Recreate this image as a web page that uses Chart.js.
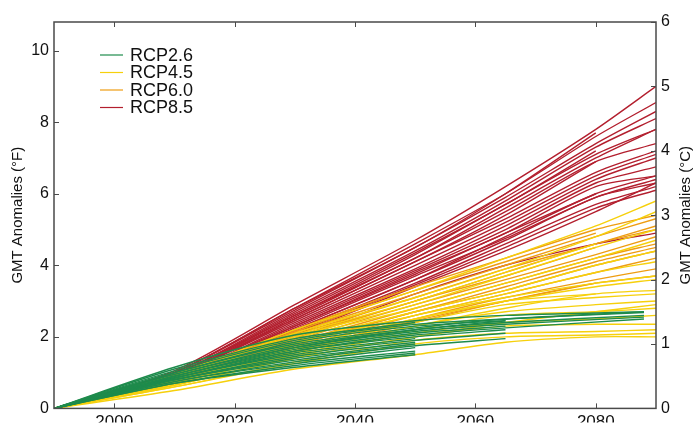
<!DOCTYPE html>
<html>
<head>
<meta charset="utf-8">
<script src="https://cdn.jsdelivr.net/npm/chart.js@4.4.1/dist/chart.umd.min.js"></script>
<style>
  html, body { margin: 0; padding: 0; background: #fff; }
</style>
</head>
<body>
<canvas id="mycanvas" width="694" height="423"></canvas>
<script>
// years where each model run is sampled
var years = [1990, 2010, 2030, 2050, 2065, 2080, 2090];
var yearsRcp26 = [1990, 2010, 2030, 2050, 2065, 2088];

// tick labels
var yearTicks = [2000, 2020, 2040, 2060, 2080];
var fTicks = [0, 2, 4, 6, 8, 10];
var cTicks = [0, 1, 2, 3, 4, 5, 6];

var scenarioNames = ['RCP2.6', 'RCP4.5', 'RCP6.0', 'RCP8.5'];

// GMT anomalies in degF, one row per model run (null = run ended)
var rcp26Runs = [
  [0, 1.15, 2.05, 2.45, 2.6, 2.7],
  [0, 1.05, 1.9, 2.35, 2.5, 2.68],
  [0, 1.0, 1.85, 2.3, 2.45, null],
  [0, 0.95, 1.75, 2.2, 2.4, 2.6],
  [0, 0.9, 1.65, 2.1, 2.3, null],
  [0, 0.9, 1.6, 2.05, 2.25, 2.5],
  [0, 0.85, 1.55, 1.95, null, null],
  [0, 0.85, 1.5, 1.9, 2.1, null],
  [0, 0.8, 1.4, 1.8, null, null],
  [0, 0.8, 1.35, 1.75, 1.95, null],
  [0, 0.75, 1.3, 1.7, null, null],
  [0, 0.75, 1.25, 1.6, null, null],
  [0, 0.7, 1.2, 1.55, null, null],
  [0, 0.7, 1.15, 1.5, null, null],
  [0, 1.0, 1.8, 2.25, 2.5, 2.7],
  [0, 0.95, 1.7, 2.15, 2.35, 2.55],
  [0, 0.9, 1.7, 2.2, 2.45, null],
  [0, 0.85, 1.6, 2.0, 2.2, null],
  [0, 0.8, 1.45, 1.85, null, null],
  [0, 1.1, 1.95, 2.4, null, null]
];

var rcp45Runs = [
  [0, 0.95, 2.2, 3.3, 4.2, 5.1, 5.8],
  [0, 0.9, 2.1, 3.1, 3.9, 4.8, 5.5],
  [0, 0.85, 2.0, 2.9, 3.7, 4.5, 5.0],
  [0, 0.85, 1.95, 2.8, 3.5, 4.2, 4.7],
  [0, 0.8, 1.85, 2.7, 3.3, 4.0, 4.4],
  [0, 0.8, 1.8, 2.6, 3.2, 3.8, 4.1],
  [0, 0.75, 1.7, 2.5, 3.0, 3.4, 3.6],
  [0, 0.75, 1.65, 2.4, 2.9, 3.1, 3.2],
  [0, 0.7, 1.6, 2.3, 2.7, 2.9, 3.0],
  [0, 0.7, 1.5, 2.2, 2.6, 2.7, 2.8],
  [0, 0.65, 1.45, 2.1, 2.4, 2.5, 2.6],
  [0, 0.65, 1.4, 2.0, 2.3, 2.35, 2.35],
  [0, 0.6, 1.3, 1.9, 2.1, 2.15, 2.2],
  [0, 0.6, 1.25, 1.8, 2.0, 2.05, 2.1],
  [0, 0.5, 1.1, 1.5, 1.85, 2.0, 2.0],
  [0, 0.9, 2.05, 3.0, 3.8, 4.6, null],
  [0, 0.8, 1.8, 2.6, 3.1, 3.5, 3.7],
  [0, 0.75, 1.7, 2.5, 3.0, 3.2, null],
  [0, 0.7, 1.55, 2.3, 2.8, 3.2, 3.3],
  [0, 0.65, 1.4, 2.0, 2.4, 2.7, 2.9]
];

var rcp60Runs = [
  [0, 0.9, 2.2, 3.4, 4.2, 5.0, 5.4],
  [0, 0.85, 2.1, 3.2, 4.0, 4.8, 5.3],
  [0, 0.85, 2.0, 3.0, 3.8, 4.6, 5.0],
  [0, 0.8, 1.9, 2.9, 3.6, 4.3, 4.8],
  [0, 0.8, 1.85, 2.8, 3.5, 4.2, 4.6],
  [0, 0.75, 1.75, 2.7, 3.3, 4.0, 4.4],
  [0, 0.75, 1.7, 2.6, 3.2, 3.8, 4.2],
  [0, 0.7, 1.6, 2.5, 3.1, 3.6, 3.9],
  [0, 0.7, 1.55, 2.4, 3.0, 3.5, 3.7],
  [0, 0.9, 2.15, 3.3, 4.1, 4.9, null],
  [0, 0.8, 1.95, 3.0, 3.7, 4.5, null],
  [0, 0.7, 1.6, 2.45, 3.0, 3.5, null],
  [0, 0.85, 2.05, 3.1, 3.9, 4.6, 5.1],
  [0, 0.75, 1.8, 2.7, 3.4, 4.1, 4.5]
];

var rcp85Runs = [
  [0, 1.05, 2.9, 4.7, 6.2, 7.8, 9.0],
  [0, 1.0, 2.8, 4.6, 6.0, 7.6, 8.55],
  [0, 1.0, 2.75, 4.5, 5.9, 7.4, 8.3],
  [0, 0.95, 2.7, 4.4, 5.8, 7.3, 8.1],
  [0, 1.0, 2.8, 4.5, 6.0, 7.7, null],
  [0, 0.95, 2.6, 4.3, 5.7, 7.1, 7.8],
  [0, 0.9, 2.55, 4.2, 5.5, 6.9, 7.4],
  [0, 0.9, 2.5, 4.1, 5.3, 6.6, 7.2],
  [0, 0.9, 2.45, 4.0, 5.2, 6.5, 7.1],
  [0, 0.85, 2.4, 3.9, 5.1, 6.4, 7.0],
  [0, 0.85, 2.35, 3.85, 5.0, 6.3, 6.75],
  [0, 0.9, 2.5, 4.1, 5.4, 6.9, null],
  [0, 0.85, 2.3, 3.8, 4.9, 6.2, 6.5],
  [0, 0.8, 2.2, 3.6, 4.7, 5.9, 6.3],
  [0, 0.8, 2.15, 3.5, 4.6, 5.7, 6.2],
  [0, 0.8, 2.1, 3.45, 4.5, 5.6, 6.1],
  [0, 0.8, 2.2, 3.6, 4.8, 6.0, 6.5],
  [0, 0.75, 2.05, 3.4, 4.4, 5.5, 6.3],
  [0, 0.85, 2.3, 3.75, 4.9, 6.0, null],
  [0, 0.8, 2.25, 3.7, 4.75, 5.9, 6.4],
  [0, 0.9, 2.6, 4.2, 5.6, 7.0, 7.8],
  [0, 0.95, 2.65, 4.35, 5.7, 7.2, null],
  [0, 0.75, 1.95, 3.2, 4.0, 4.6, 4.9]
];

var colors = {
  'RCP2.6': '#1e8b4c',
  'RCP4.5': '#f6d00c',
  'RCP6.0': '#ee9d12',
  'RCP8.5': '#b31f2e'
};

var fontName = '"Liberation Sans", Arial, sans-serif';

function makeSets(name, runs, xs) {
  return runs.map(function(run) {
    var pts = [];
    for (var i = 0; i < run.length; i++) {
      pts.push({ x: xs[i], y: run[i] });
    }
    return {
      label: name,
      data: pts,
      borderColor: colors[name],
      borderWidth: 1.4,
      pointRadius: 0,
      tension: 0.25,
      fill: false,
      yAxisID: 'y'
    };
  });
}

// first dataset is drawn on top, so green goes first
var datasets = []
  .concat(makeSets('RCP2.6', rcp26Runs, yearsRcp26))
  .concat(makeSets('RCP4.5', rcp45Runs, years))
  .concat(makeSets('RCP6.0', rcp60Runs, years))
  .concat(makeSets('RCP8.5', rcp85Runs, years));

// frame, inward ticks, axis titles and legend
var framePlugin = {
  id: 'frame',
  afterDraw: function(chart) {
    var ctx = chart.ctx;
    var a = chart.chartArea;
    var sx = chart.scales.x, sy = chart.scales.y, sy2 = chart.scales.y2;
    ctx.save();

    ctx.strokeStyle = '#4a4a4a';
    ctx.lineWidth = 1.5;
    ctx.strokeRect(a.left, a.top, a.right - a.left, a.bottom - a.top);

    ctx.lineWidth = 1;
    ctx.beginPath();
    yearTicks.forEach(function(v) {
      var px = Math.round(sx.getPixelForValue(v)) + 0.5;
      ctx.moveTo(px, a.bottom); ctx.lineTo(px, a.bottom - 5);
      ctx.moveTo(px, a.top); ctx.lineTo(px, a.top + 5);
    });
    fTicks.forEach(function(v) {
      var py = Math.round(sy.getPixelForValue(v)) + 0.5;
      ctx.moveTo(a.left, py); ctx.lineTo(a.left + 5, py);
    });
    cTicks.forEach(function(v) {
      var py = Math.round(sy2.getPixelForValue(v)) + 0.5;
      ctx.moveTo(a.right, py); ctx.lineTo(a.right - 5, py);
    });
    ctx.stroke();

    // axis titles, both read bottom to top
    var midY = (a.top + a.bottom) / 2;
    ctx.fillStyle = '#111';
    ctx.font = '15px ' + fontName;
    ctx.textAlign = 'center';
    ctx.textBaseline = 'middle';
    ctx.save();
    ctx.translate(18, midY);
    ctx.rotate(-Math.PI / 2);
    ctx.fillText('GMT Anomalies (°F)', 0, 0);
    ctx.restore();
    ctx.save();
    ctx.translate(686, midY);
    ctx.rotate(-Math.PI / 2);
    ctx.fillText('GMT Anomalies (°C)', 0, 0);
    ctx.restore();

    // legend
    ctx.font = '18px ' + fontName;
    ctx.textAlign = 'left';
    for (var i = 0; i < scenarioNames.length; i++) {
      var ly = 55 + i * 17.5;
      ctx.strokeStyle = colors[scenarioNames[i]];
      ctx.lineWidth = 1.2;
      ctx.beginPath();
      ctx.moveTo(100, ly);
      ctx.lineTo(123, ly);
      ctx.stroke();
      ctx.fillStyle = '#111';
      ctx.fillText(scenarioNames[i], 130, ly + 1);
    }
    ctx.restore();
  }
};

var ctx = document.getElementById('mycanvas');

var chart = new Chart(ctx, {
  type: 'line',
  data: { datasets: datasets },
  options: {
    responsive: false,
    animation: false,
    events: [],
    layout: { padding: { top: 22, left: 0, right: 0, bottom: 0 } },
    plugins: {
      legend: { display: false },
      tooltip: { enabled: false }
    },
    scales: {
      x: {
        type: 'linear',
        min: 1990,
        max: 2090,
        afterFit: function(scale) { scale.height = 14; },
        afterBuildTicks: function(scale) {
          scale.ticks = yearTicks.map(function(v) { return { value: v }; });
        },
        grid: { display: false, drawTicks: false },
        border: { display: false },
        ticks: {
          padding: 4,
          color: '#111',
          font: { family: fontName, size: 17 },
          maxRotation: 0,
          callback: function(v) { return String(v); }
        }
      },
      y: {
        position: 'left',
        min: 0,
        max: 10.8,
        afterFit: function(scale) { scale.width = 54; },
        afterBuildTicks: function(scale) {
          scale.ticks = fTicks.map(function(v) { return { value: v }; });
        },
        grid: { display: false, drawTicks: false },
        border: { display: false },
        ticks: {
          padding: 5,
          color: '#111',
          font: { family: fontName, size: 16 },
          callback: function(v) { return String(v); }
        }
      },
      y2: {
        position: 'right',
        min: 0,
        max: 6,
        afterFit: function(scale) { scale.width = 38; },
        afterBuildTicks: function(scale) {
          scale.ticks = cTicks.map(function(v) { return { value: v }; });
        },
        grid: { display: false, drawTicks: false },
        border: { display: false },
        ticks: {
          padding: 5,
          color: '#111',
          font: { family: fontName, size: 16 },
          callback: function(v) { return String(v); }
        }
      }
    }
  },
  plugins: [framePlugin]
});
</script>
</body>
</html>
